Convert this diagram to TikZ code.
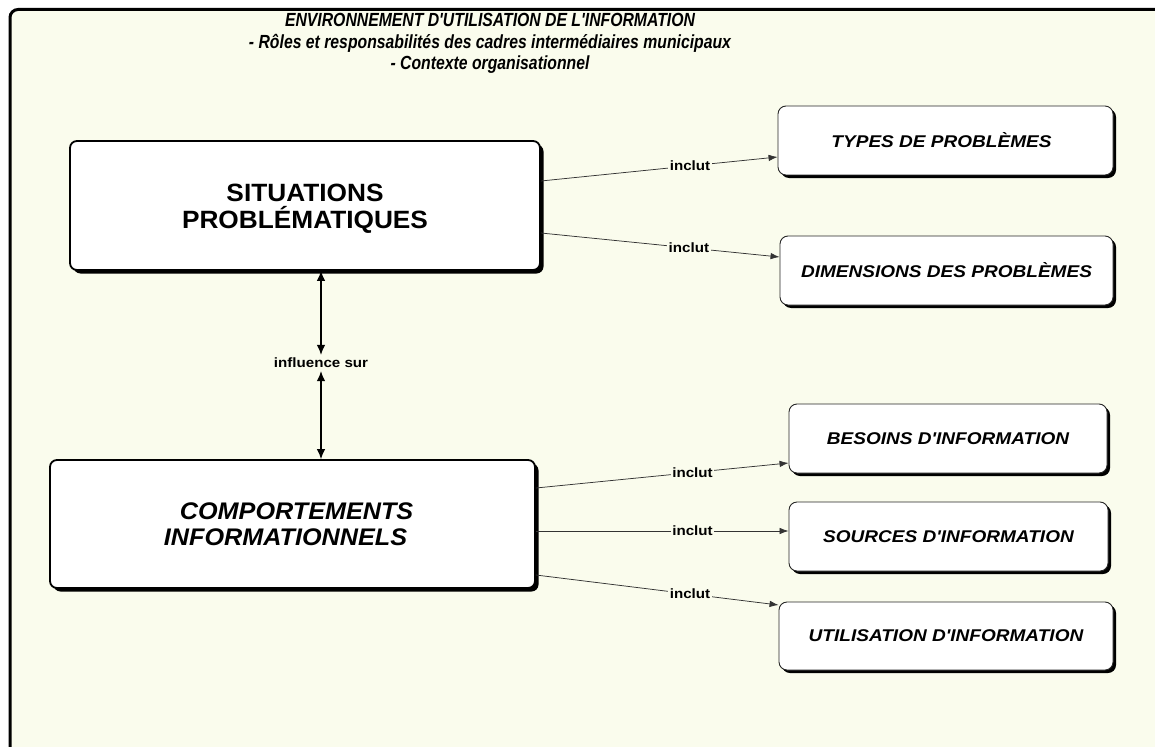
\documentclass[tikz,border=0pt]{standalone}
\usepackage{fontspec}
\setmainfont{Liberation Sans}
\newfontfamily\boxfont{Liberation Sans}[FakeStretch=1.12]
\newfontfamily\bigfont{Liberation Sans}[FakeStretch=1.05]
\newfontfamily\titlefont{Liberation Sans}[FakeStretch=0.83]
\usetikzlibrary{shadows,arrows.meta}
\definecolor{bgc}{RGB}{250,252,237}
\begin{document}
\begin{tikzpicture}[x=1pt,y=-1pt,
  bigbox/.style={draw=black, line width=1.8pt, rounded corners=7pt, fill=white,
    inner sep=0pt, drop shadow={shadow xshift=3.5pt, shadow yshift=-3.5pt, fill=black, opacity=1}},
  smallbox/.style={draw=black!85, line width=0.9pt, rounded corners=8pt, fill=white,
    inner sep=0pt, align=center, font=\boxfont\bfseries\itshape\fontsize{17}{20}\selectfont,
    drop shadow={shadow xshift=3pt, shadow yshift=-3pt, fill=black, opacity=1}},
  conn/.style={draw=black!80, line width=0.75pt, -{Latex[length=9pt,width=6.5pt]}},
  dconn/.style={draw=black, line width=1.2pt, {Latex[length=10pt,width=8.5pt]}-{Latex[length=10pt,width=8.5pt]}},
  lbl/.style={fill=bgc, inner sep=1.5pt, font=\boxfont\bfseries\fontsize{13.5}{15}\selectfont, text=black},
  ]
\useasboundingbox (0,0) rectangle (1155,746);
\fill[white] (0,0) rectangle (1155,746);
\begin{scope}
  \clip (0,0) rectangle (1155,746);
  \draw[line width=3pt, fill=bgc, rounded corners=8pt] (10,9.5) rectangle (1200,800);
\end{scope}

% title
\node[align=center, font=\titlefont\bfseries\itshape\fontsize{19}{21.5}\selectfont] (title) at (490,43.5)
  {ENVIRONNEMENT D'UTILISATION DE L'INFORMATION\\
   - Rôles et responsabilités des cadres intermédiaires municipaux\\
   - Contexte organisationnel};

% main boxes
\node[bigbox, minimum width=470pt, minimum height=129pt, align=center,
      font=\bigfont\bfseries\fontsize{25}{27}\selectfont] (sp) at (305,205.5)
  {\rule{0pt}{24pt}SITUATIONS\\PROBLÉMATIQUES};
\node[bigbox, minimum width=485pt, minimum height=128pt, align=left,
      font=\bigfont\bfseries\itshape\fontsize{24}{26}\selectfont] (ci) at (292.5,524)
  {\hspace*{16pt}COMPORTEMENTS\\INFORMATIONNELS\hspace*{14pt}};

% small boxes
\node[smallbox, minimum width=335pt, minimum height=69pt] (types) at (945.5,140.5) {TYPES DE PROBLÈMES\hspace*{8pt}};
\node[smallbox, minimum width=333pt, minimum height=69pt] (dim) at (946.5,270.5) {DIMENSIONS DES PROBLÈMES};
\node[smallbox, minimum width=318pt, minimum height=69pt] (bes) at (948,438.5) {BESOINS D'INFORMATION};
\node[smallbox, minimum width=319pt, minimum height=69pt] (src) at (948.5,536.5) {SOURCES D'INFORMATION};
\node[smallbox, minimum width=334pt, minimum height=68pt] (util) at (946,636) {UTILISATION D'INFORMATION};

% connectors
\draw[conn] ([yshift=24.5pt]sp.east) -- node[lbl, pos=0.63] {inclut} ([yshift=-16.5pt]types.west);
\draw[conn] ([yshift=-27.5pt]sp.east) -- node[lbl, pos=0.62] {inclut} ([yshift=13.5pt]dim.west);
\draw[conn] ([yshift=36pt]ci.east) -- node[lbl, pos=0.62] {inclut} ([yshift=-24.5pt]bes.west);
\draw[conn] ([yshift=-7pt]ci.east) -- node[lbl, pos=0.62] {inclut} ([yshift=5.5pt]src.west);
\draw[conn] ([yshift=-51pt]ci.east) -- node[lbl, pos=0.635] {inclut} ([yshift=31pt]util.west);

% influence
\node[lbl, inner sep=0pt] (infl) at (321,363) {influence sur};
\draw[dconn] (infl.north |- sp.south) -- ([yshift=3pt]infl.north);
\draw[dconn] ([yshift=-3pt]infl.south) -- (infl.south |- ci.north);
\end{tikzpicture}
\end{document}
